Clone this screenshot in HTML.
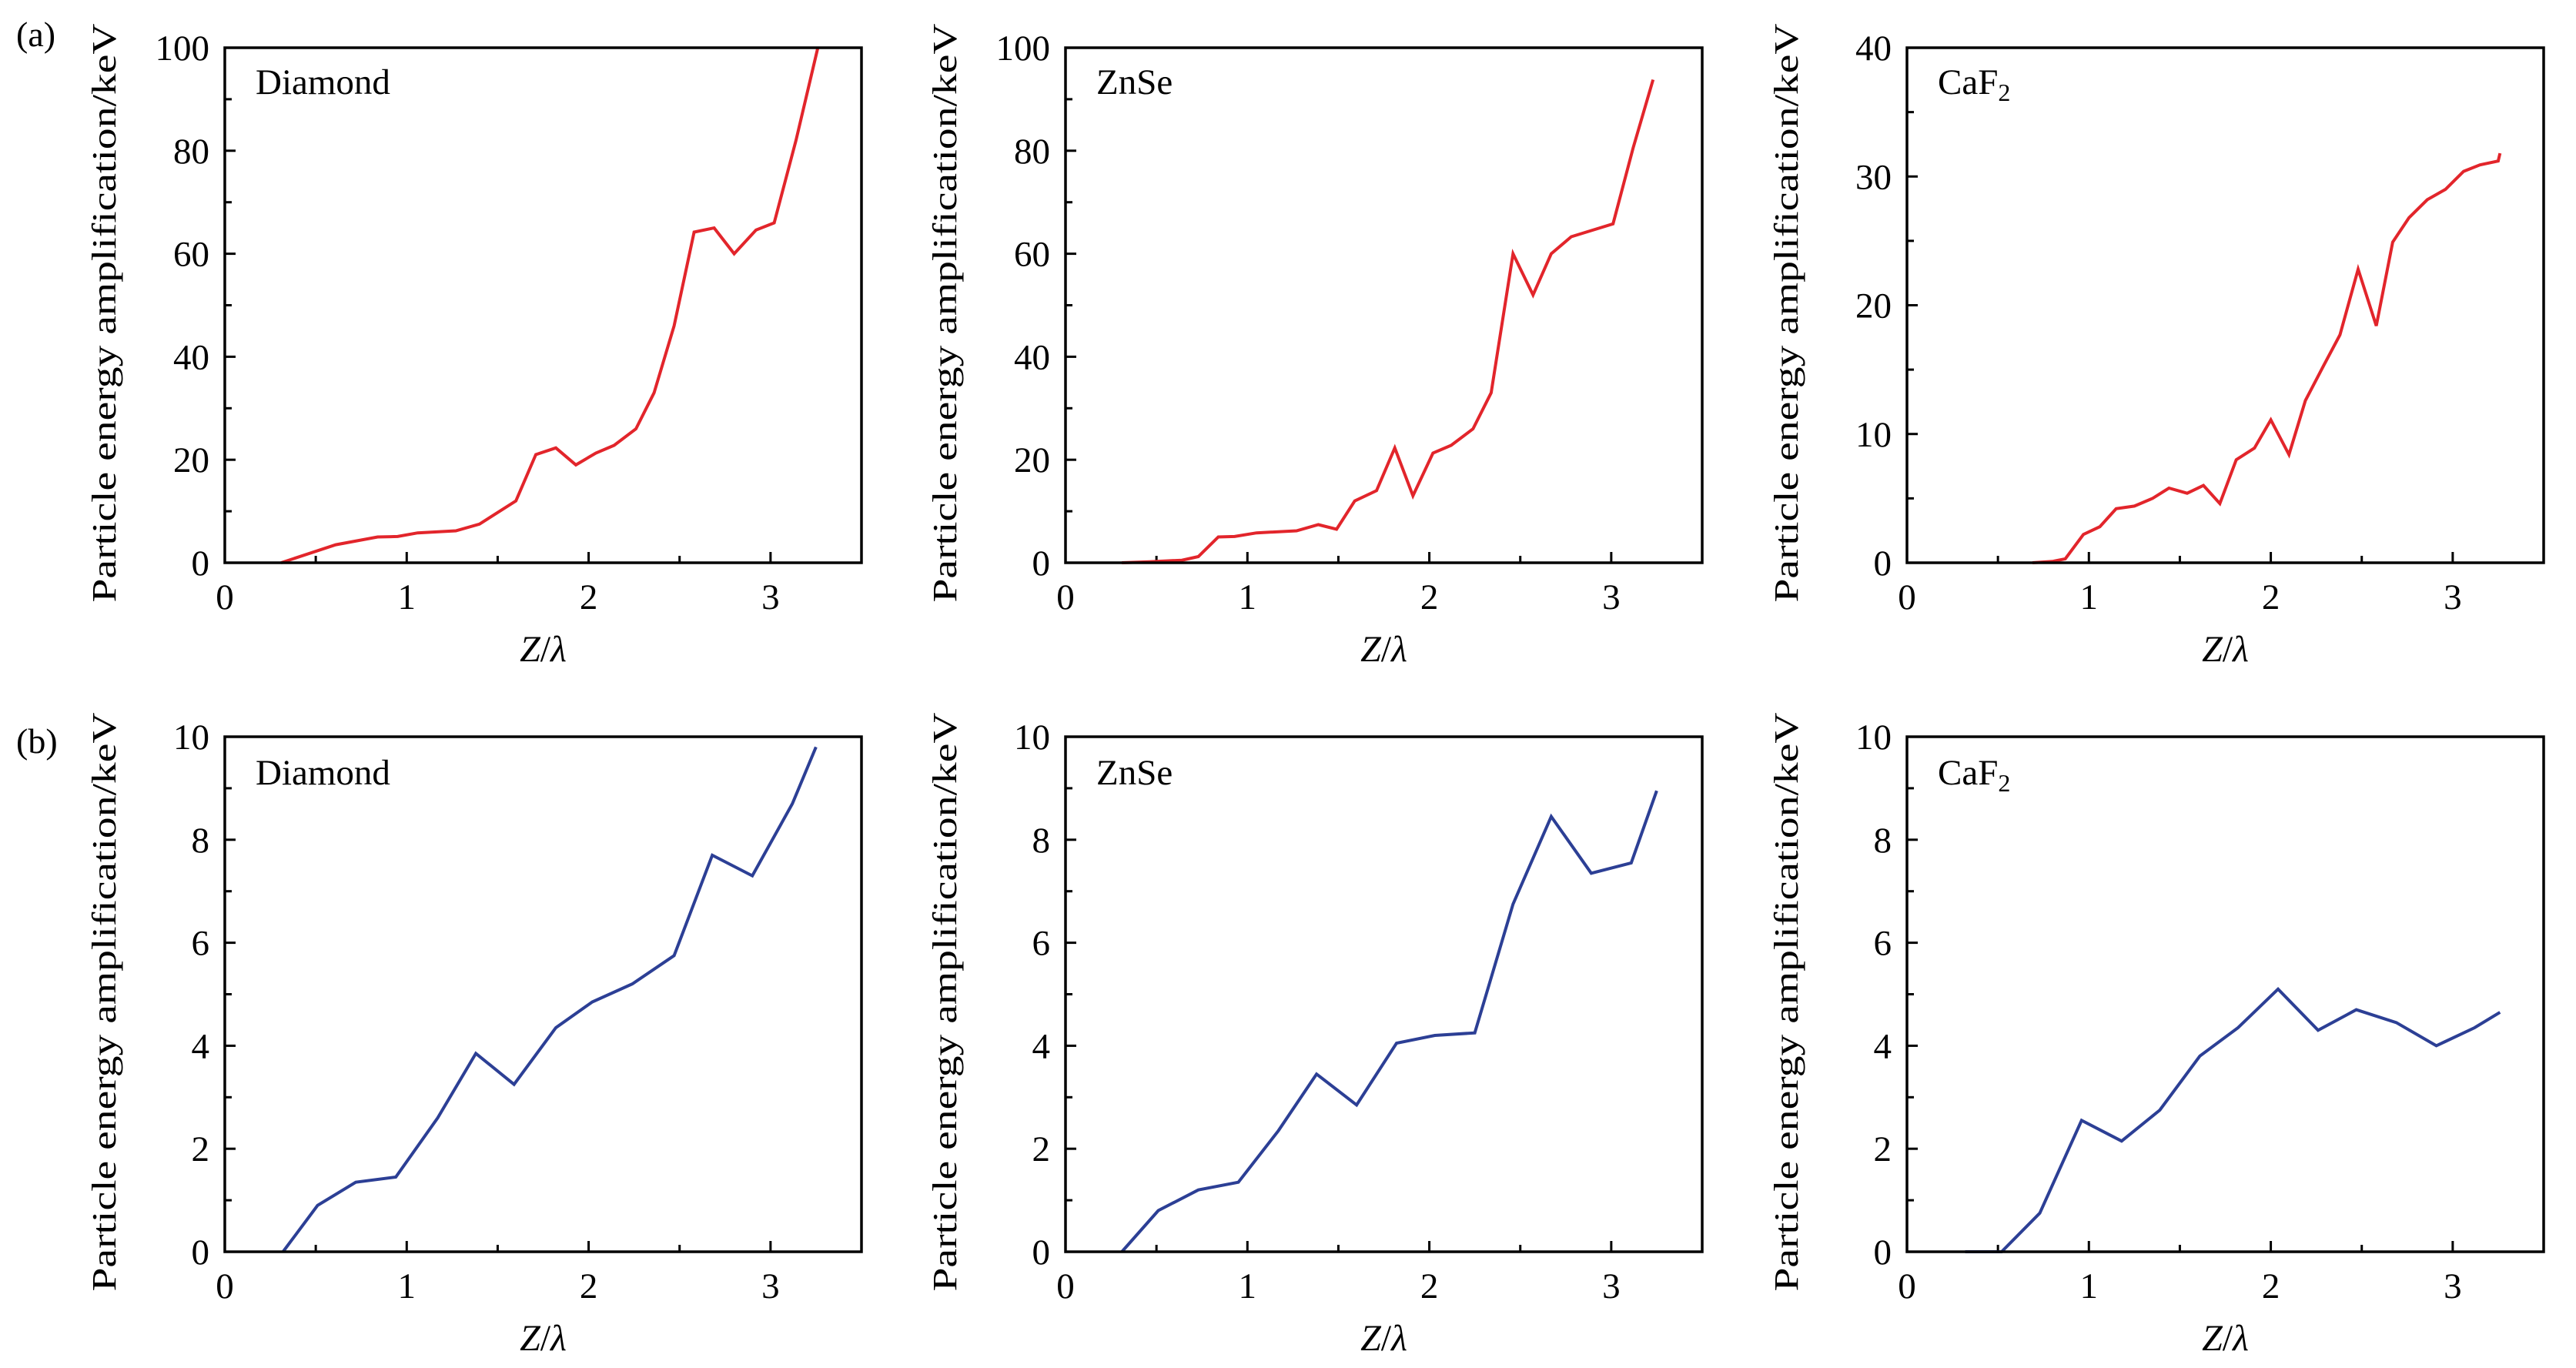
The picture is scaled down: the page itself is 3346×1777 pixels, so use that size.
<!DOCTYPE html>
<html><head><meta charset="utf-8"><style>
html,body{margin:0;padding:0;background:#fff;}
svg{display:block;font-family:"Liberation Serif",serif;}
</style></head><body>
<svg id="fig" width="3346" height="1777" viewBox="0 0 3346 1777" xmlns="http://www.w3.org/2000/svg">
<rect width="3346" height="1777" fill="#fff"/>
<text x="21" y="60" font-size="46">(a)</text>
<text x="21" y="978" font-size="46">(b)</text>
</svg>
<script>
const diamondAX=[0.31,0.61,0.84,0.95,1.06,1.27,1.40,1.60,1.71,1.82,1.93,2.04,2.14,2.26,2.36,2.47,2.58,2.69,2.80,2.92,3.02,3.14,3.26];
const diamondAY=[0,3.5,5,5.1,5.8,6.2,7.5,12,21,22.3,19,21.3,22.8,26,33,46,64.2,65,60,64.6,66,82,100];
const znseAX=[0.31,0.46,0.64,0.73,0.84,0.93,1.05,1.27,1.39,1.49,1.59,1.71,1.81,1.91,2.02,2.12,2.24,2.34,2.46,2.57,2.67,2.78,2.89,3.01,3.12,3.23];
const znseAY=[0,0.2,0.5,1.2,5,5.1,5.8,6.2,7.4,6.5,12,14,22.3,13,21.3,22.8,26,33,60,52,60,63.3,64.5,65.8,80.5,93.8];
const caf2AX=[0.69,0.80,0.87,0.97,1.06,1.15,1.25,1.35,1.44,1.54,1.63,1.72,1.81,1.91,2.00,2.10,2.19,2.29,2.38,2.48,2.58,2.67,2.76,2.86,2.96,3.06,3.15,3.25,3.26];
const caf2AY=[0,0.1,0.3,2.2,2.8,4.2,4.4,5.0,5.8,5.4,6.0,4.6,8.0,8.9,11.1,8.4,12.6,15.3,17.7,22.8,18.4,24.9,26.8,28.2,29.0,30.4,30.9,31.2,31.8];
const diamondBX=[0.32,0.51,0.72,0.94,1.17,1.38,1.59,1.82,2.02,2.24,2.47,2.68,2.90,3.12,3.25];
const diamondBY=[0,0.9,1.35,1.45,2.6,3.85,3.25,4.35,4.85,5.2,5.75,7.7,7.3,8.7,9.8];
const znseBX=[0.31,0.51,0.73,0.95,1.17,1.38,1.60,1.82,2.03,2.25,2.46,2.67,2.89,3.11,3.25];
const znseBY=[0,0.8,1.2,1.35,2.35,3.45,2.85,4.05,4.2,4.25,6.75,8.45,7.35,7.55,8.95];
const caf2BX=[0.32,0.52,0.73,0.96,1.18,1.39,1.61,1.82,2.04,2.26,2.47,2.69,2.91,3.12,3.26];
const caf2BY=[0,0,0.75,2.55,2.15,2.75,3.8,4.35,5.1,4.3,4.7,4.45,4.0,4.35,4.65];
const xTicks=[0,1,2,3];
const yTicks100=[0,20,40,60,80,100];
const yTicks40=[0,10,20,30,40];
const yTicks10=[0,2,4,6,8,10];

const NS="http://www.w3.org/2000/svg";
const svg=document.getElementById('fig');
function mk(tag,attrs,parent){const e=document.createElementNS(NS,tag);for(const k in attrs)e.setAttribute(k,attrs[k]);(parent||svg).appendChild(e);return e;}

const cols=[292,1384,2477], W=827;
const rows=[62,957], H=669;
const panels=[
 {c:0,r:0,name:'diamond-a',label:'Diamond',xs:diamondAX,ys:diamondAY,yt:yTicks100,ymax:100,minor:10,color:'#e2252b'},
 {c:1,r:0,name:'znse-a',label:'ZnSe',xs:znseAX,ys:znseAY,yt:yTicks100,ymax:100,minor:10,color:'#e2252b'},
 {c:2,r:0,name:'caf2-a',label:'CaF',xs:caf2AX,ys:caf2AY,yt:yTicks40,ymax:40,minor:5,color:'#e2252b'},
 {c:0,r:1,name:'diamond-b',label:'Diamond',xs:diamondBX,ys:diamondBY,yt:yTicks10,ymax:10,minor:1,color:'#2c3f95'},
 {c:1,r:1,name:'znse-b',label:'ZnSe',xs:znseBX,ys:znseBY,yt:yTicks10,ymax:10,minor:1,color:'#2c3f95'},
 {c:2,r:1,name:'caf2-b',label:'CaF',xs:caf2BX,ys:caf2BY,yt:yTicks10,ymax:10,minor:1,color:'#2c3f95'}
];
panels.forEach(p=>{
 const L=cols[p.c], T=rows[p.r], B=T+H, R=L+W;
 const g=mk('g',{});
 
 
 const sx=v=>L+v/3.5*W, sy=v=>B-v/p.ymax*H;
 for(let v=0;v<=3.5+1e-9;v+=0.5){
  const major=Math.abs(v-Math.round(v))<1e-9;
  const t=mk('line',{x1:sx(v),x2:sx(v),y1:B,y2:B-(major?14:9),stroke:'#000','stroke-width':3},g);
  
  
 }
 for(let v=0;v<=p.ymax+1e-9;v+=p.minor){
  const major=p.yt.some(t=>Math.abs(t-v)<1e-9);
  const t=mk('line',{x1:L,x2:L+(major?14:9),y1:sy(v),y2:sy(v),stroke:'#000','stroke-width':3},g);
  
  
 }
 xTicks.forEach(v=>{
  const t=mk('text',{x:sx(v),y:B+60,'font-size':47,'text-anchor':'middle'},g);t.textContent=v;
  
  
 });
 p.yt.forEach(v=>{
  const t=mk('text',{x:L-20,y:sy(v)+16,'font-size':47,'text-anchor':'end'},g);t.textContent=v;
  
  
 });
 const pts=p.xs.map((x,i)=>sx(x).toFixed(1)+','+sy(p.ys[i]).toFixed(1)).join(' ');
 const pl=mk('polyline',{points:pts,fill:'none',stroke:p.color,'stroke-width':4,'stroke-linejoin':'miter'},g);
 
 
 const fr=mk('rect',{x:L,y:T,width:W,height:H,fill:'none',stroke:'#000','stroke-width':3.5},g);
 
 
 const lb=mk('text',{x:L+40,y:T+(p.r===0?60:62),'font-size':47},g);
 
 
 lb.textContent=p.label;
 if(p.label==='CaF'){const s=mk('tspan',{'font-size':32,dy:9},lb);s.textContent='2';}
 const xt=mk('text',{x:(L+R)/2,y:B+128,'font-size':48,'text-anchor':'middle'},g);
 
 
 const z=mk('tspan',{'font-style':'italic'},xt);z.textContent='Z';
 const sl=mk('tspan',{},xt);sl.textContent='/';
 const la=mk('tspan',{'font-style':'italic'},xt);la.textContent='λ';
 const cx=L-142, cy=(T+B)/2+10;
 const yt=mk('text',{x:cx,y:cy,'font-size':44,'text-anchor':'middle',transform:`rotate(-90 ${cx} ${cy})`,textLength:752,lengthAdjust:'spacingAndGlyphs'},g);
 
 
 yt.textContent='Particle energy amplification/keV';
});
</script>
</body></html>
